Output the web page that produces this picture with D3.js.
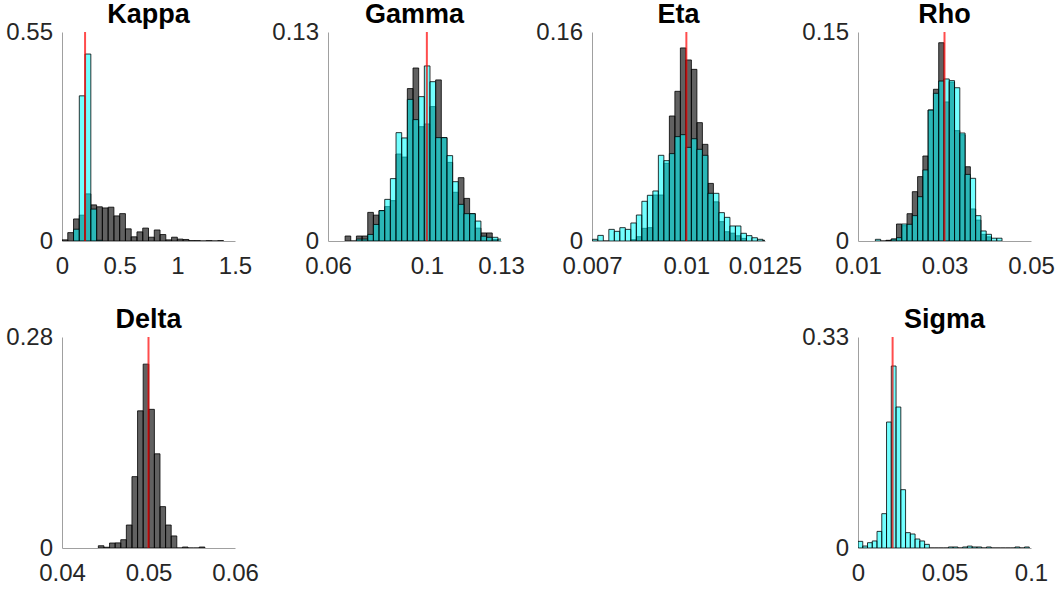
<!DOCTYPE html>
<html>
<head>
<meta charset="utf-8">
<script src="https://cdn.jsdelivr.net/npm/d3@7"></script>
<style>
  body { margin: 0; background: #fff; }
  svg { display: block; }
</style>
</head>
<body>
<svg id="chart"></svg>
<script>
// panel titles, axis limits and tick labels
const titles = ["Kappa", "Gamma", "Eta", "Rho", "Delta", "Sigma"];
const xDomains = [[0, 1.5], [0.06, 0.13], [0.007, 0.0125], [0.01, 0.05], [0.04, 0.06], [0, 0.1]];
const xTicks = [[0, 0.5, 1, 1.5], [0.06, 0.1, 0.13], [0.007, 0.01, 0.0125], [0.01, 0.03, 0.05], [0.04, 0.05, 0.06], [0, 0.05, 0.1]];
const yMax = [0.55, 0.13, 0.16, 0.15, 0.28, 0.33];
const trueValues = [0.2, 0.1, 0.01, 0.03, 0.05, 0.02];

// histogram bins: first edge and bin width for each panel
const binStart = [0, 0.06692, 0.00701, 0.01402, 0.0442, 0];
const binWidth = [0.05, 0.00229, 0.000175, 0.00122, 0.000648, 0.00275];

// probabilities per bin (gray = first sampler, cyan = second)
const kappaGray = [0.003, 0.022, 0.058, 0.068, 0.124, 0.095, 0.090, 0.087, 0.089, 0.066, 0.072, 0.032, 0.011, 0.024,
                   0.034, 0.010, 0.029, 0.017, 0.003, 0.010, 0.005, 0.004, 0.001, 0.001, 0, 0.001, 0, 0.001];
const kappaCyan = [0, 0, 0.031, 0.382, 0.492, 0.084, 0.002];

const gammaGray = [0.0031, 0, 0.0031, 0.0031, 0.0178, 0.0161, 0.0189, 0.0214, 0.0251, 0.0541, 0.0522, 0.0948, 0.1076, 0.0711,
                   0.0728, 0.0836, 0.1002, 0.0643, 0.0489, 0.0303, 0.0394, 0.0265, 0.017, 0.008, 0.005, 0.005, 0.001];
const gammaCyan = [0, 0, 0.0012, 0.0012, 0.0041, 0.0103, 0.0189, 0.0259, 0.0388, 0.0674, 0.0641, 0.0881, 0.0755, 0.0898,
                   0.1089, 0.0991, 0.0643, 0.0643, 0.0531, 0.0369, 0.0228, 0.017, 0.017, 0.0124, 0.003, 0.0023, 0.0023, 0.0012];

const etaGray = [0, 0, 0, 0, 0, 0, 0, 0.001, 0.0033, 0.0097, 0.0102, 0.0352, 0.0352, 0.0595, 0.0957, 0.1146, 0.1478,
                 0.1386, 0.1314, 0.0906, 0.074, 0.0441, 0.03, 0.0148, 0.0071, 0.006, 0.004, 0.002];
const etaCyan = [0.0013, 0.0043, 0, 0.0089, 0.0074, 0.0102, 0.0089, 0.0138, 0.0199, 0.0304, 0.035, 0.0383, 0.0656, 0.0615,
                 0.0669, 0.0799, 0.0814, 0.0717, 0.0783, 0.0702, 0.0656, 0.0365, 0.0365, 0.0217, 0.0181, 0.0115, 0.0115,
                 0.0059, 0.0041, 0.0025, 0.0013, 0.0005];

const rhoGray = [0, 0, 0.0005, 0.0014, 0.0122, 0.011, 0.0196, 0.0354, 0.0462, 0.061, 0.094, 0.1089, 0.1423, 0.0998,
                 0.114, 0.0792, 0.0763, 0.0533, 0.023, 0.015, 0.0048, 0.003];
const rhoCyan = [0.0012, 0, 0, 0.0014, 0.0024, 0.0122, 0.012, 0.0182, 0.0318, 0.051, 0.094, 0.106, 0.1148, 0.1163,
                 0.1151, 0.110, 0.0775, 0.0478, 0.045, 0.0182, 0.0072, 0.0048, 0.002, 0.002];

const deltaGray = [0.003, 0.001, 0.0066, 0.0068, 0.011, 0.0305, 0.0947, 0.182, 0.244, 0.184, 0.125, 0.0549, 0.0305,
                   0.016, 0, 0.0013, 0, 0, 0.0013];
const deltaCyan = [];

const sigmaGray = [];
const sigmaCyan = [0.0104, 0.0031, 0.0083, 0.011, 0.026, 0.0537, 0.197, 0.2846, 0.2205, 0.0912, 0.024, 0.0219, 0.0141,
                   0.011, 0.0057, 0, 0, 0, 0, 0.0016, 0.0016, 0, 0.0016, 0.003, 0.0016, 0.0016, 0, 0.0016, 0, 0, 0,
                   0, 0, 0.0016, 0, 0.0016];

const grayData = [kappaGray, gammaGray, etaGray, rhoGray, deltaGray, sigmaGray];
const cyanData = [kappaCyan, gammaCyan, etaCyan, rhoCyan, deltaCyan, sigmaCyan];

const width = 1061, height = 590;
const svg = d3.select("#chart").attr("width", width).attr("height", height);

// subplot grid (2 x 4, only 6 axes used)
const lefts = [62, 328, 592, 858, 62, 858];
const tops = [32, 32, 32, 32, 337, 337];
const plotW = 173;
const plotH = [209, 209, 209, 209, 211, 211];
const font = "Liberation Sans, Arial, Helvetica, sans-serif";

function drawHist(g, probs, start, bw, x, y, fill, opacity) {
    const first = probs.findIndex(p => p > 0);
    if (first < 0) return;
    let last = probs.length - 1;
    while (probs[last] <= 0) last--;
    const bins = d3.range(first, last + 1).map(k => ({ x0: start + k * bw, x1: start + (k + 1) * bw, p: probs[k] }));
    g.append("g").selectAll("path")
     .data(bins)
     .join("path")
     .attr("d", b => `M${x(b.x0)},${y(0)}V${y(b.p)}H${x(b.x1)}V${y(0)}Z`)
     .attr("fill", fill)
     .attr("fill-opacity", opacity)
     .attr("stroke", "#000")
     .attr("stroke-width", 0.8);
}

titles.forEach((title, i) => {
    const h = plotH[i];
    const g = svg.append("g").attr("transform", `translate(${lefts[i]},${tops[i]})`);

    const x = d3.scaleLinear().domain(xDomains[i]).range([0, plotW]);
    const y = d3.scaleLinear().domain([0, yMax[i]]).range([h, 0]);

    g.append("clipPath").attr("id", "clip" + i)
     .append("rect").attr("width", plotW).attr("height", h);

    // axes
    const xAxis = g.append("g")
       .attr("transform", `translate(0,${h})`)
       .call(d3.axisBottom(x).tickValues(xTicks[i]).tickSize(0).tickSizeOuter(0).tickPadding(16)
               .tickFormat(d => String(d)));
    const yAxis = g.append("g")
       .call(d3.axisLeft(y).tickValues([0, yMax[i]]).tickSize(0).tickSizeOuter(0).tickPadding(9)
               .tickFormat(d => String(d)));

    [xAxis, yAxis].forEach(a => {
        a.attr("font-family", font).attr("font-size", 24).attr("color", "#262626");
        a.select(".domain").attr("stroke", "#a0a0a0").attr("stroke-width", 1);
    });

    const bars = g.append("g").attr("clip-path", `url(#clip${i})`);
    drawHist(bars, grayData[i], binStart[i], binWidth[i], x, y, "#000", 0.62);
    drawHist(bars, cyanData[i], binStart[i], binWidth[i], x, y, "#00ffff", 0.55);

    // true parameter value
    g.append("line")
     .attr("x1", x(trueValues[i])).attr("x2", x(trueValues[i]))
     .attr("y1", y(0)).attr("y2", y(yMax[i]))
     .attr("stroke", "#ff0000")
     .attr("stroke-opacity", 0.7)
     .attr("stroke-width", 2);

    g.append("text")
     .attr("x", plotW / 2)
     .attr("y", -9)
     .attr("text-anchor", "middle")
     .attr("font-family", font)
     .attr("font-weight", "bold")
     .attr("font-size", 27)
     .attr("fill", "#000")
     .text(title);
});
</script>
</body>
</html>
